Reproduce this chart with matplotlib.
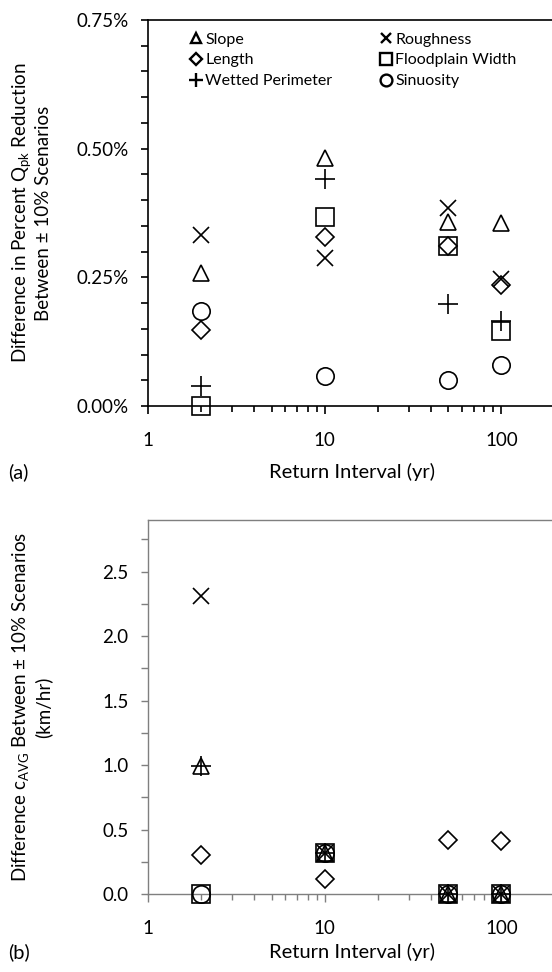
import matplotlib
matplotlib.use("Agg")
import matplotlib.pyplot as plt
from matplotlib.ticker import FixedLocator, FuncFormatter, MultipleLocator, NullFormatter

plt.rcParams['font.family'] = ['Lato', 'DejaVu Sans']
plt.rcParams['mathtext.fontset'] = 'custom'
plt.rcParams['mathtext.rm'] = 'Lato'
plt.rcParams['mathtext.it'] = 'Lato:italic'

# return intervals (yr)
return_interval = [2, 10, 50, 100]

series_names = ["Slope", "Length", "Wetted Perimeter", "Roughness", "Floodplain Width", "Sinuosity"]

# (a) difference in percent Qpk reduction (%)
qpk_slope = [0.258, 0.482, 0.358, 0.355]
qpk_length = [0.148, 0.329, 0.310, 0.235]
qpk_wetted = [0.039, 0.442, 0.199, 0.166]
qpk_rough = [0.332, 0.288, 0.384, 0.246]
qpk_flood = [0.0, 0.368, 0.310, 0.145]
qpk_sinu = [0.184, 0.058, 0.050, 0.079]

# (b) difference in cAVG (km/hr)
cavg_slope = [0.99, 0.32, 0.0, 0.0]
cavg_length = [0.30, 0.12, 0.42, 0.41]
cavg_wetted = [0.99, 0.32, 0.0, 0.0]
cavg_rough = [2.31, 0.32, 0.0, 0.0]
cavg_flood = [0.0, 0.32, 0.0, 0.0]
cavg_sinu = [0.0, 0.32, 0.0, 0.0]

# marker, size for each series
styles = [("^", 11), ("D", 9.5), ("+", 14), ("x", 11), ("s", 13.5), ("o", 12.5)]

W, H = 552, 972
fig = plt.figure(figsize=(W / 100, H / 100), dpi=100)

decade = 176.7
ax_w = 3 * decade / W
ax_a = fig.add_axes([148 / W, 1 - 406 / H, ax_w, (406 - 20) / H])
ax_b = fig.add_axes([148 / W, 1 - 894 / H, ax_w, (894 - 520) / H])


def draw(ax, data, spine_col, lw):
    for (mk, ms), name, vals in zip(styles, series_names, data):
        ax.plot(return_interval, vals, linestyle="none", marker=mk, markersize=ms,
                markerfacecolor="none", markeredgecolor="black", markeredgewidth=1.2,
                color="black", label=name, clip_on=False, zorder=3)
    ax.set_xscale("log")
    ax.set_xlim(1, 1000)
    ax.xaxis.set_major_locator(FixedLocator([1, 10, 100]))
    ax.xaxis.set_major_formatter(FuncFormatter(lambda v, p: "%d" % v))
    ax.xaxis.set_minor_formatter(NullFormatter())
    for s in ax.spines.values():
        s.set_color(spine_col)
        s.set_linewidth(lw)
    ax.spines["right"].set_visible(False)
    ax.tick_params(axis="both", which="both", direction="out", colors=spine_col,
                   labelcolor="black", labelsize=13.5, width=lw)
    ax.tick_params(axis="x", which="major", length=6, pad=13)
    ax.tick_params(axis="x", which="minor", length=4)
    ax.tick_params(axis="y", which="both", length=5, pad=9)


draw(ax_a, [qpk_slope, qpk_length, qpk_wetted, qpk_rough, qpk_flood, qpk_sinu], "black", 1.2)
ax_a.set_ylim(0, 0.75)
ax_a.yaxis.set_major_locator(MultipleLocator(0.25))
ax_a.yaxis.set_minor_locator(MultipleLocator(0.05))
ax_a.yaxis.set_major_formatter(FuncFormatter(lambda v, p: "%.2f%%" % v))

leg = ax_a.legend(ncol=2, loc="upper left", bbox_to_anchor=(0.079, 0.968), frameon=False,
                  fontsize=11.5, markerscale=0.68, handlelength=0.8, handletextpad=0.15,
                  labelspacing=0.42, columnspacing=3.0, borderpad=0, borderaxespad=0)
for h in leg.legend_handles:
    h.set_markeredgewidth(1.7)

draw(ax_b, [cavg_slope, cavg_length, cavg_wetted, cavg_rough, cavg_flood, cavg_sinu], "#7f7f7f", 1.0)
ax_b.set_ylim(0, 2.9)
ax_b.yaxis.set_major_locator(MultipleLocator(0.5))
ax_b.yaxis.set_minor_locator(MultipleLocator(0.25))
ax_b.yaxis.set_major_formatter(FuncFormatter(lambda v, p: "%.1f" % v))

# y labels
fig.text(31 / W, 1 - 213 / H,
         "Difference in Percent Q$_{\\mathrm{pk}}$ Reduction\nBetween \u00b1 10% Scenarios",
         rotation=90, ha="center", va="center", fontsize=13.5, multialignment="center")
fig.text(31 / W, 1 - 707 / H,
         "Difference c$_{\\mathrm{AVG}}$ Between \u00b1 10% Scenarios\n(km/hr)",
         rotation=90, ha="center", va="center", fontsize=13.5, multialignment="center")

# x labels and panel tags
fig.text(352 / W, 1 - 472 / H, "Return Interval (yr)", ha="center", va="center", fontsize=14.5)
fig.text(352 / W, 1 - 952 / H, "Return Interval (yr)", ha="center", va="center", fontsize=14.5)
fig.text(8 / W, 1 - 472 / H, "(a)", ha="left", va="center", fontsize=14.5)
fig.text(8 / W, 1 - 952 / H, "(b)", ha="left", va="center", fontsize=14.5)

fig.savefig("out.png", dpi=100)
